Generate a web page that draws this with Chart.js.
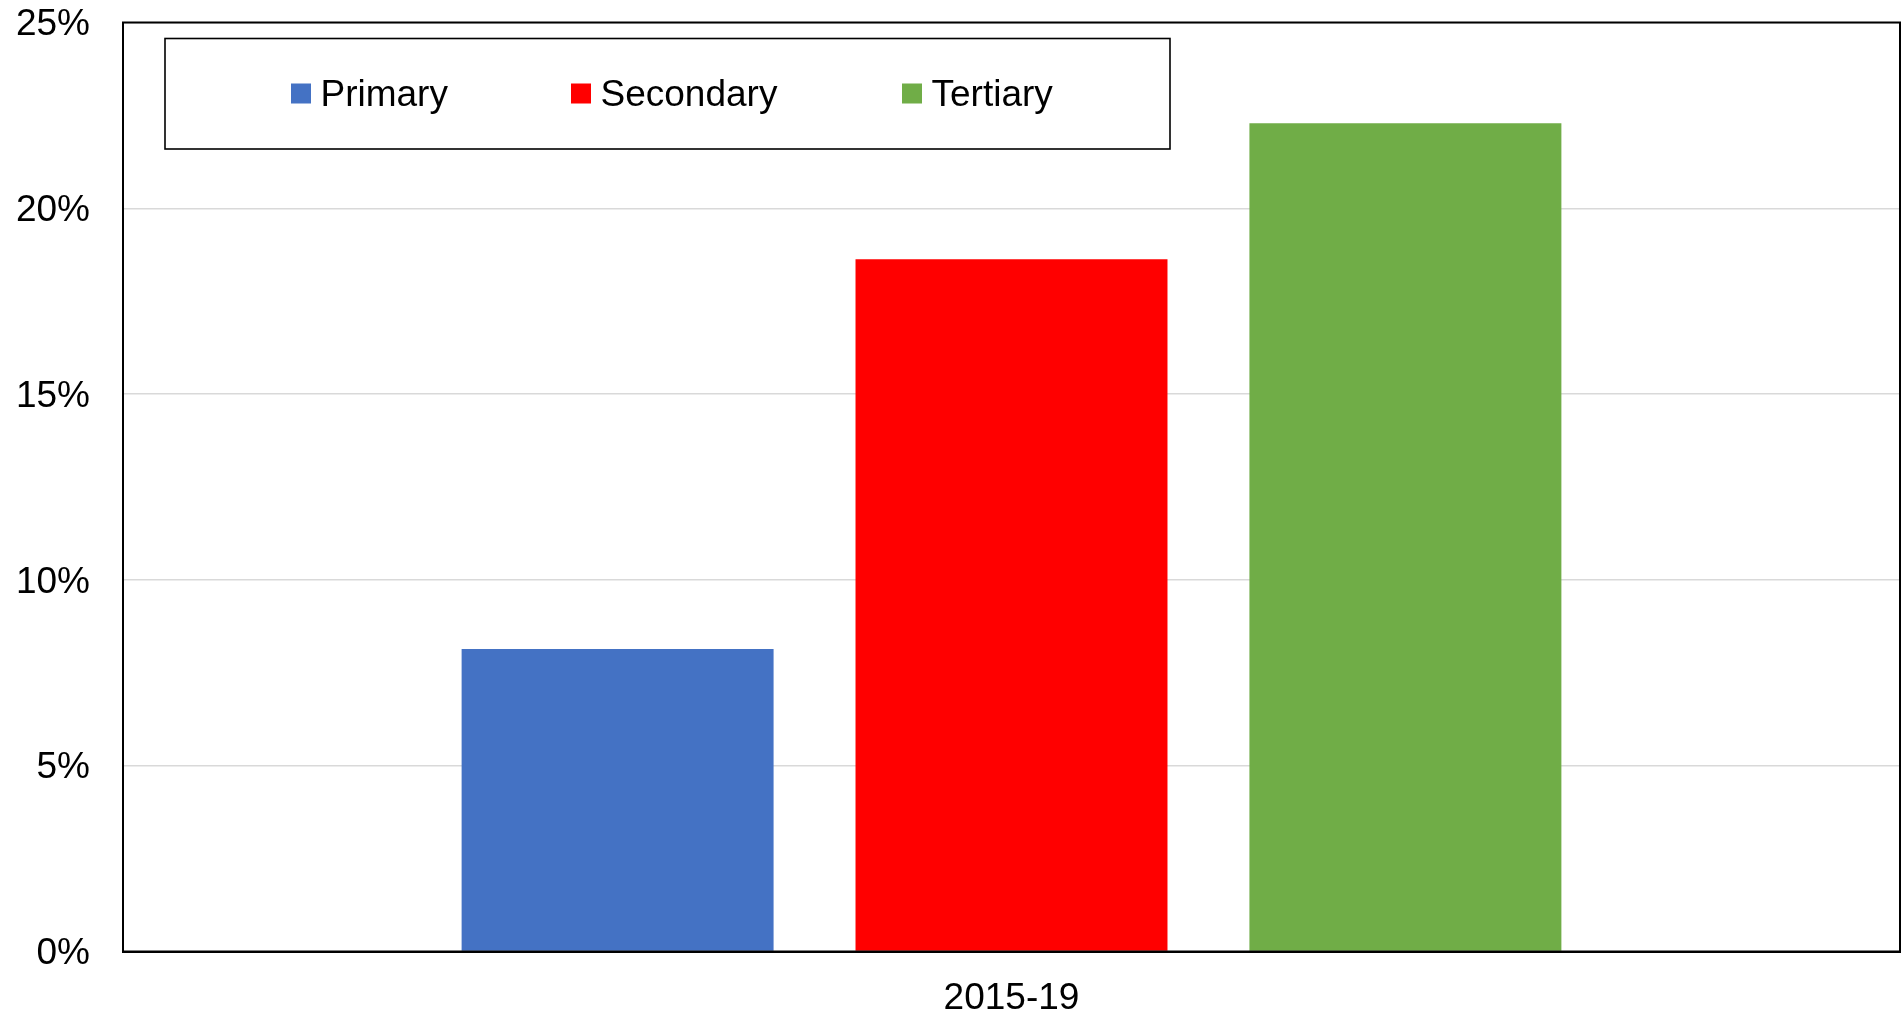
<!DOCTYPE html>
<html>
<head>
<meta charset="utf-8">
<script src="https://cdn.jsdelivr.net/npm/chart.js@4/dist/chart.umd.min.js"></script>
<style>
  html, body { margin: 0; padding: 0; background: #ffffff; }
  #wrap { width: 1901px; height: 1015px; }
</style>
</head>
<body>
<div id="wrap"><canvas id="c" width="1901" height="1015"></canvas></div>
<script>
// ---- Data ----
const categories = ['2015-19'];
const seriesNames = ['Primary', 'Secondary', 'Tertiary'];
const primaryValues = [8.14];
const secondaryValues = [18.63];
const tertiaryValues = [22.29];
const yTickMin = 0;
const yTickMax = 25;
const yTickStep = 5;

const colors = ['#4472C4', '#FF0000', '#70AD47'];
const FONT = '"Liberation Sans", Arial, Helvetica, sans-serif';

const seriesValues = [primaryValues, secondaryValues, tertiaryValues];

const boxLegend = {
  id: 'boxLegend',
  afterDraw(chart) {
    const ctx = chart.ctx;
    ctx.save();
    // plot frame
    const a = chart.chartArea;
    ctx.strokeStyle = '#000';
    ctx.lineWidth = 2;
    ctx.strokeRect(a.left, a.top, a.right - a.left, a.bottom - a.top);

    // legend box
    ctx.fillStyle = '#fff';
    ctx.fillRect(165, 38.5, 1005, 110.5);
    ctx.lineWidth = 1.6;
    ctx.strokeRect(165, 38.5, 1005, 110.5);

    const xs = [291, 571, 902];
    ctx.font = '37px ' + FONT;
    ctx.textBaseline = 'alphabetic';
    ctx.textAlign = 'left';
    chart.data.datasets.forEach((ds, i) => {
      ctx.fillStyle = ds.backgroundColor;
      ctx.fillRect(xs[i], 83.5, 20, 20);
      ctx.fillStyle = '#000';
      ctx.fillText(ds.label, xs[i] + 29.5, 106);
    });
    ctx.restore();
  }
};

new Chart(document.getElementById('c'), {
  type: 'bar',
  data: {
    labels: categories,
    datasets: seriesNames.map((name, i) => ({
      label: name,
      data: seriesValues[i],
      backgroundColor: colors[i],
      borderWidth: 0,
      categoryPercentage: 0.665,
      barPercentage: 0.792
    }))
  },
  options: {
    responsive: false,
    animation: false,
    devicePixelRatio: 1,
    layout: { padding: { top: 22.5, right: 1, left: 0, bottom: 0 } },
    plugins: {
      legend: { display: false },
      tooltip: { enabled: false }
    },
    scales: {
      x: {
        grid: { display: false, drawTicks: false },
        border: { display: true, color: '#000', width: 2 },
        ticks: { color: '#000', font: { family: FONT, size: 37 }, padding: 25 },
        afterFit(scale) { scale.height = 63.5; scale.paddingLeft = 0; scale.paddingRight = 0; }
      },
      y: {
        min: yTickMin,
        max: yTickMax,
        ticks: {
          stepSize: yTickStep,
          color: '#000',
          font: { family: FONT, size: 37 },
          padding: 33,
          labelOffset: 2.5,
          callback: v => v + '%'
        },
        grid: { color: '#d9d9d9', lineWidth: 1.5, drawTicks: false },
        border: { display: true, color: '#000', width: 2 },
        afterFit(scale) { scale.width = 123; scale.paddingTop = 0; scale.paddingBottom = 0; }
      }
    }
  },
  plugins: [boxLegend]
});
</script>
</body>
</html>
